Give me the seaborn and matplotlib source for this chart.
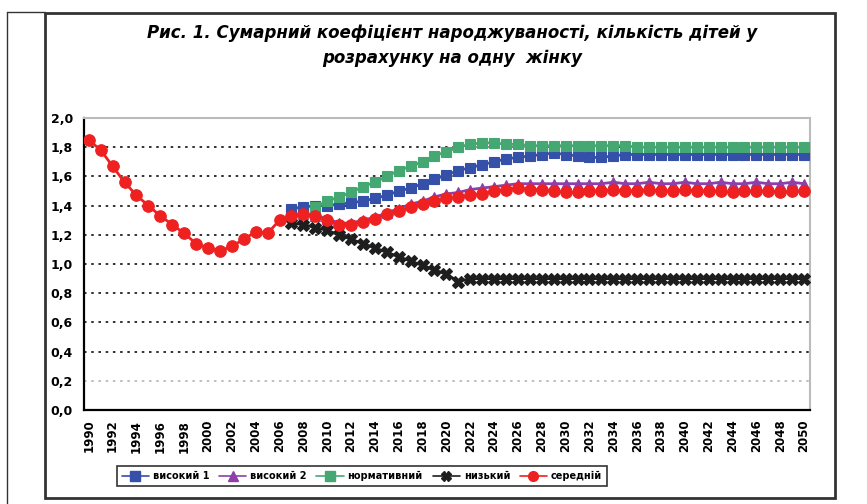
import numpy as np
import pandas as pd
import matplotlib
matplotlib.use("Agg")
import matplotlib.pyplot as plt
from matplotlib.lines import Line2D
from matplotlib.patches import Rectangle
import seaborn as sns

# ---------------- data ----------------
years = list(range(1990, 2051))

historic = [1.85, 1.78, 1.67, 1.56, 1.47, 1.40, 1.33, 1.27, 1.21, 1.14,
            1.11, 1.09, 1.12, 1.17, 1.22, 1.21, 1.30]  # 1990-2006

serednii = historic + [
    1.33, 1.34, 1.33, 1.30, 1.27, 1.27, 1.29, 1.31, 1.34, 1.36,
    1.39, 1.41, 1.43, 1.45, 1.46, 1.47, 1.48, 1.50, 1.51, 1.52,
    1.51, 1.51, 1.50, 1.49, 1.49, 1.50, 1.50, 1.51, 1.50, 1.50,
    1.51, 1.50, 1.50, 1.51, 1.50, 1.50, 1.50, 1.49, 1.50, 1.50,
    1.50, 1.49, 1.50, 1.50]

vysokyi1 = [None] * 17 + [
    1.38, 1.39, 1.40, 1.40, 1.41, 1.42, 1.43, 1.45, 1.47, 1.50,
    1.52, 1.55, 1.58, 1.61, 1.64, 1.66, 1.68, 1.70, 1.72, 1.73,
    1.74, 1.75, 1.76, 1.75, 1.74, 1.73, 1.73, 1.74, 1.75, 1.75,
    1.75, 1.75, 1.75, 1.75, 1.75, 1.75, 1.75, 1.75, 1.75, 1.75,
    1.75, 1.75, 1.75, 1.75]

vysokyi2 = [None] * 17 + [
    1.33, 1.34, 1.33, 1.31, 1.28, 1.28, 1.30, 1.32, 1.35, 1.38,
    1.41, 1.43, 1.46, 1.48, 1.49, 1.51, 1.52, 1.53, 1.54, 1.55,
    1.55, 1.55, 1.55, 1.55, 1.55, 1.55, 1.55, 1.56, 1.55, 1.55,
    1.56, 1.55, 1.55, 1.56, 1.55, 1.55, 1.56, 1.55, 1.55, 1.56,
    1.55, 1.55, 1.56, 1.55]

normatyvnyi = [None] * 19 + [
    1.39, 1.43, 1.46, 1.49, 1.53, 1.56, 1.60, 1.64,
    1.67, 1.70, 1.74, 1.77, 1.80, 1.82, 1.83, 1.83, 1.82, 1.82,
    1.81, 1.81, 1.81, 1.81, 1.81, 1.81, 1.81, 1.81, 1.81,
    1.80, 1.80, 1.80, 1.80, 1.80, 1.80, 1.80, 1.80, 1.80, 1.80,
    1.80, 1.80, 1.80, 1.80, 1.80]

nyzkyi = [None] * 17 + [
    1.28, 1.27, 1.25, 1.23, 1.20, 1.17, 1.14, 1.11, 1.08, 1.05,
    1.02, 0.99, 0.96, 0.93, 0.88, 0.90, 0.90, 0.90, 0.90, 0.90,
    0.90, 0.90, 0.90, 0.90, 0.90, 0.90, 0.90, 0.90, 0.90, 0.90,
    0.90, 0.90, 0.90, 0.90, 0.90, 0.90, 0.90, 0.90, 0.90, 0.90,
    0.90, 0.90, 0.90, 0.90]

series_names = ["високий 1", "високий 2", "нормативний", "низький", "середній"]
title_lines = ["Рис. 1. Сумарний коефіцієнт народжуваності, кількість дітей у",
               "розрахунку на одну  жінку"]
y_ticks = [0.0, 0.2, 0.4, 0.6, 0.8, 1.0, 1.2, 1.4, 1.6, 1.8, 2.0]

df = pd.DataFrame({
    "year": years,
    "високий 1": pd.to_numeric(pd.Series(vysokyi1), errors="coerce"),
    "високий 2": pd.to_numeric(pd.Series(vysokyi2), errors="coerce"),
    "нормативний": pd.to_numeric(pd.Series(normatyvnyi), errors="coerce"),
    "низький": pd.to_numeric(pd.Series(nyzkyi), errors="coerce"),
    "середній": pd.to_numeric(pd.Series(serednii), errors="coerce"),
})

# ---------------- style ----------------
sns.set_style("white")
plt.rcParams["font.family"] = ["DejaVu Sans"]
plt.rcParams["text.color"] = "black"
plt.rcParams["xtick.color"] = "black"
plt.rcParams["ytick.color"] = "black"

colors = {"високий 1": "#3550A8", "високий 2": "#8E3FA8", "нормативний": "#45A872",
          "низький": "#1E1E1E", "середній": "#EE2020"}
markers = {"високий 1": "s", "високий 2": "^", "нормативний": "s",
           "низький": "X", "середній": "o"}
msizes = {"високий 1": 7.0, "високий 2": 7.0, "нормативний": 7.5,
          "низький": 8.0, "середній": 8.3}

fig = plt.figure(figsize=(8.67, 5.04), dpi=100)
W, H = 867, 504
ax = fig.add_axes([84 / W, 1 - 410 / H, (810 - 84) / W, (410 - 118) / H])

# gridlines
for v in y_ticks[1:-1]:
    ax.axhline(v, color="#BBBBBB" if v < 0.3 else "#222222", lw=1.3,
               linestyle=(0, (1.4, 2.6)), zorder=0)

for name in series_names:
    sns.lineplot(data=df, x="year", y=name, ax=ax, color=colors[name],
                 marker=markers[name], markersize=msizes[name],
                 markeredgecolor=colors[name], markeredgewidth=0.8,
                 linewidth=2, label=None, legend=False, zorder=3)

ax.set_xlim(1989.6, 2050.5)
ax.set_ylim(0, 2.0)
ax.set_xlabel("")
ax.set_ylabel("")

ax.set_yticks(y_ticks)
ax.set_yticklabels([f"{v:.1f}".replace(".", ",") for v in y_ticks],
                   fontsize=9, fontweight="bold", color="black")
ax.set_xticks(years)
ax.set_xticklabels([str(y) if y % 2 == 0 else "" for y in years],
                   rotation=90, fontsize=8.5, fontweight="bold", color="black")
ax.tick_params(axis="y", direction="out", length=6, width=1.3, pad=2, color="black")
ax.tick_params(axis="x", direction="out", length=4, width=1.2, pad=3, color="#444444")

for s in ["left", "bottom"]:
    ax.spines[s].set_color("black")
    ax.spines[s].set_linewidth(1.6)
for s in ["top", "right"]:
    ax.spines[s].set_color("#BBBBBB")
    ax.spines[s].set_linewidth(1.5)

# title
fig.text(452 / W, 1 - 33 / H, title_lines[0], ha="center", va="center",
         fontsize=12, fontweight="bold", fontstyle="italic", color="black")
fig.text(452 / W, 1 - 58 / H, title_lines[1], ha="center", va="center",
         fontsize=12, fontweight="bold", fontstyle="italic", color="black")

# legend
handles = [Line2D([0], [0], color=colors[n], lw=1.2, marker=markers[n],
                  markersize=7, markeredgecolor=colors[n]) for n in series_names]
leg = fig.legend(handles, series_names, loc="center", bbox_to_anchor=(362 / W, 1 - 476 / H),
                 ncol=5, frameon=True, fancybox=False, edgecolor="black",
                 prop={"size": 7, "weight": "bold"}, handlelength=2.8,
                 columnspacing=1.0, handletextpad=0.4, borderpad=0.5)
leg.get_frame().set_linewidth(1.2)
for t in leg.get_texts():
    t.set_color("black")

# outer frame
fig.add_artist(Rectangle((45 / W, 1 - 498 / H), (835 - 45) / W, (498 - 13) / H,
                         transform=fig.transFigure, fill=False, lw=2.0, ec="#333333"))
fig.add_artist(Line2D([7 / W, 7 / W], [0, 1 - 12 / H], transform=fig.transFigure,
                      color="#333333", lw=1.0))
fig.add_artist(Line2D([7 / W, 45 / W], [1 - 12 / H, 1 - 12 / H], transform=fig.transFigure,
                      color="#333333", lw=1.0))

fig.savefig("out.png", dpi=100)
